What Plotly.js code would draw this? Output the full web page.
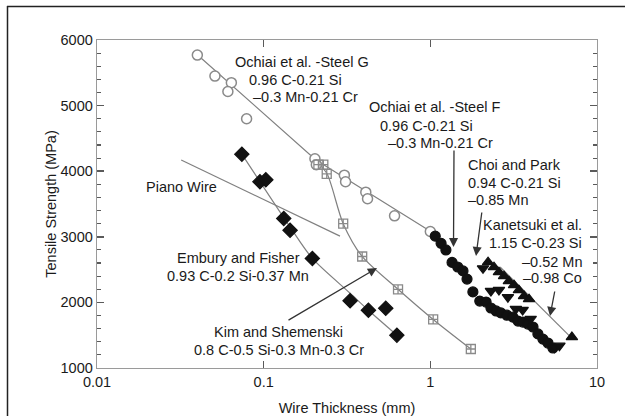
<!DOCTYPE html>
<html><head><meta charset="utf-8">
<script src="https://cdn.plot.ly/plotly-3.0.1.min.js"></script>
<style>html,body{margin:0;padding:0;background:#fff;}#chart{width:625px;height:416px;}</style>
</head><body><div id="chart"></div>
<script>
// ---- data ----
const xTickVals = [0.01, 0.1, 1, 10];
const xTickText = ['0.01', '0.1', '1', '10'];

const steelG_x = [0.040, 0.051, 0.064, 0.061, 0.079, 0.203, 0.207, 0.305, 0.31, 0.41, 0.42, 0.61, 1.0];
const steelG_y = [5770, 5450, 5350, 5215, 4800, 4190, 4100, 3940, 3840, 3680, 3580, 3320, 3080];
const steelG_fit_x = [0.040, 0.205, 1.0];
const steelG_fit_y = [5775, 4175, 3085];

const steelF_x = [0.213, 0.228, 0.239, 0.30, 0.39, 0.64, 1.04, 1.75];
const steelF_y = [4100, 4100, 3960, 3200, 2700, 2200, 1740, 1290];
const steelF_fit_x = [0.21, 0.24, 0.30, 0.39, 0.64, 1.04, 1.75];
const steelF_fit_y = [4130, 3960, 3200, 2700, 2200, 1740, 1290];

const diam_x = [0.074, 0.095, 0.103, 0.132, 0.144, 0.196, 0.33, 0.425, 0.54, 0.63];
const diam_y = [4260, 3840, 3870, 3280, 3100, 2670, 2025, 1880, 1910, 1500];
const diam_fit_x = [0.074, 0.144, 0.196, 0.33, 0.425, 0.63];
const diam_fit_y = [4260, 3150, 2670, 2140, 1880, 1500];

const piano_x = [0.032, 0.287];
const piano_y = [4170, 3010];

const circ_x = [1.07, 1.16, 1.24, 1.35, 1.46, 1.57, 1.66, 1.80, 1.98, 2.16, 2.31, 2.48, 2.65, 2.88, 3.13, 3.36, 3.59, 3.85, 4.13, 4.42, 4.74, 5.08, 5.44];
const circ_y = [3010, 2900, 2800, 2610, 2540, 2480, 2355, 2160, 2020, 2005, 1915, 1870, 1840, 1805, 1775, 1715, 1700, 1670, 1625, 1520, 1440, 1380, 1305];

const triUp_x = [2.22, 2.41, 2.58, 2.77, 2.96, 3.18, 3.40, 3.65, 3.91, 7.07];
const triUp_y = [2613, 2537, 2461, 2400, 2324, 2263, 2187, 2096, 2050, 1472];

const triDn_x = [2.07, 2.31, 2.58, 2.92, 3.26, 3.58, 4.0, 5.55, 5.95];
const triDn_y = [2520, 2175, 2190, 2080, 1900, 1885, 1750, 1310, 1340];

const kan_fit_x = [2.62, 7.05];
const kan_fit_y = [2540, 1455];

// ---- styling ----
const FONT = 'Liberation Sans, Arial, Helvetica, sans-serif';
const LINE = '#808080';
const AX = '#9a9a9a';
const TK = '#5a5a5a';
const ML = {l: 97, r: 28, t: 40, b: 48};
const PW = 625 - ML.l - ML.r, PH = 416 - ML.t - ML.b;
function px(x) { return (x - ML.l) / PW; }
function py(y) { return (416 - ML.b - y) / PH; }

function fitLine(x, y, shape) {
  return {x: x, y: y, mode: 'lines', type: 'scatter',
          line: {color: LINE, width: 1.2, shape: shape || 'linear', smoothing: 0.8}};
}
function pts(x, y, symbol, size, color, lineColor, lw) {
  return {x: x, y: y, mode: 'markers', type: 'scatter',
          marker: {symbol: symbol, size: size, color: color,
                   line: {color: lineColor || color, width: lw || 1.2}}};
}

const traces = [
  fitLine(piano_x, piano_y),
  fitLine(steelG_fit_x, steelG_fit_y),
  fitLine(steelF_fit_x, steelF_fit_y, 'spline'),
  fitLine(diam_fit_x, diam_fit_y, 'spline'),
  fitLine(kan_fit_x, kan_fit_y),
  pts(steelG_x, steelG_y, 'circle', 10, '#ffffff', '#8a8a8a', 1.5),
  pts(steelF_x, steelF_y, 'square-cross-open', 9, '#8a8a8a', '#8a8a8a', 1.3),
  pts(diam_x, diam_y, 'diamond', 11, '#111111'),
  pts(circ_x, circ_y, 'circle', 10, '#111111'),
  pts(triUp_x, triUp_y, 'triangle-up', 10, '#111111'),
  pts(triDn_x, triDn_y, 'triangle-down', 10, '#111111')
];

function txt(s, x, y, anchor) {
  return {text: s, xref: 'paper', yref: 'paper', x: px(x), y: py(y),
          xanchor: anchor || 'left', yanchor: 'middle', showarrow: false,
          font: {family: FONT, size: 14.5, color: '#1a1a1a'}};
}
function arrow(tipX, tipY, tailX, tailY) {
  return {text: '', xref: 'paper', yref: 'paper', x: px(tipX), y: py(tipY),
          ax: tailX - tipX, ay: tailY - tipY, showarrow: true,
          arrowhead: 2, arrowsize: 1.4, arrowwidth: 1.3, arrowcolor: '#333', standoff: 0};
}

const annotations = [
  txt('Ochiai et al. -Steel G', 233, 61.7),
  txt('0.96 C-0.21 Si', 247, 80),
  txt('\u20130.3 Mn-0.21 Cr', 250.5, 97.3),
  txt('Ochiai et al. -Steel F', 367, 107.3),
  txt('0.96 C-0.21 Si', 378, 126),
  txt('\u20130.3 Mn-0.21 Cr', 386, 142.7),
  txt('Choi and Park', 465.5, 165),
  txt('0.94 C-0.21 Si', 465.5, 183.3),
  txt('\u20130.85 Mn', 465.5, 200),
  txt('Kanetsuki et al.', 584, 225, 'right'),
  txt('1.15 C-0.23 Si', 584, 243.3, 'right'),
  txt('\u20130.52 Mn', 584, 261.7, 'right'),
  txt('\u20130.98 Co', 584, 278.3, 'right'),
  txt('Piano Wire', 144, 186.7),
  txt('Embury and Fisher', 174.5, 258.3),
  txt('0.93 C-0.2 Si-0.37 Mn', 164.5, 276),
  txt('Kim and Shemenski', 212, 332.3),
  txt('0.8 C-0.5 Si-0.3 Mn-0.3 Cr', 191.5, 350),
  arrow(453.5, 247, 454, 149),
  arrow(476, 256, 482, 211),
  arrow(550, 316, 555, 290),
  arrow(377, 268, 287, 321)
];

const shapes = [
  {type: 'line', xref: 'paper', yref: 'paper', x0: px(7), x1: px(630), y0: py(6.5), y1: py(6.5),
   line: {color: '#222', width: 1.5}},
  {type: 'line', xref: 'paper', yref: 'paper', x0: px(7.5), x1: px(7.5), y0: py(6), y1: py(420),
   line: {color: '#222', width: 1.5}}
];

const titleFont = {family: FONT, size: 14.5, color: '#1a1a1a'};
const layout = {
  width: 625, height: 416, margin: ML, showlegend: false,
  font: {family: FONT, size: 14.5, color: '#1a1a1a'},
  xaxis: {
    type: 'log', range: [-2, 1], tickvals: xTickVals, ticktext: xTickText,
    gridcolor: 'rgba(0,0,0,0)', showline: true, linecolor: AX, linewidth: 1.3,
    mirror: 'ticks', ticks: 'inside', ticklen: 7, tickcolor: TK, tickwidth: 1.5,
    title: {text: 'Wire Thickness (mm)', font: titleFont}
  },
  yaxis: {
    range: [1000, 6000], dtick: 1000,
    gridcolor: 'rgba(0,0,0,0)', showline: true, linecolor: AX, linewidth: 1.3,
    mirror: 'ticks', ticks: 'inside', ticklen: 7, tickcolor: TK, tickwidth: 1.5,
    minor: {ticks: 'inside', dtick: 200, ticklen: 4, tickcolor: TK, tickwidth: 1.1, gridcolor: 'rgba(0,0,0,0)'},
    title: {text: 'Tensile Strength (MPa)', font: titleFont}
  },
  annotations: annotations,
  shapes: shapes
};

Plotly.newPlot('chart', traces, layout, {staticPlot: true});
</script></body></html>
